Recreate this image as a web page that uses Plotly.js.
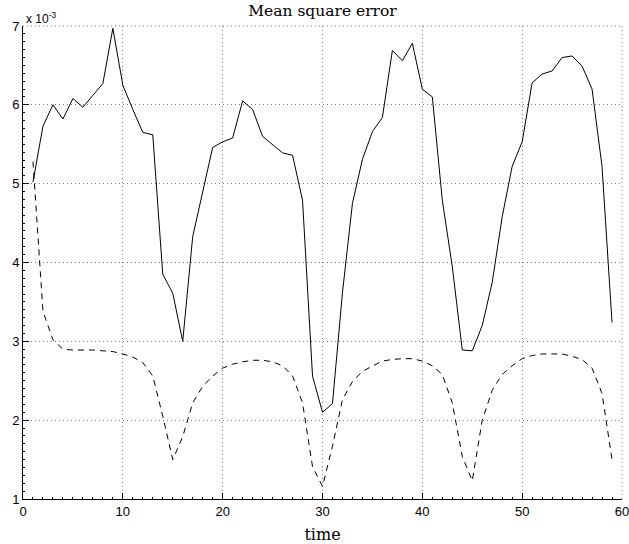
<!DOCTYPE html>
<html>
<head>
<meta charset="utf-8">
<script src="https://cdn.plot.ly/plotly-3.0.1.min.js"></script>
<style>html,body{margin:0;padding:0;background:#fff;}#chart{width:629px;height:544px;}</style>
</head>
<body>
<div id="chart"></div>
<script>
// time steps
var time = [1,2,3,4,5,6,7,8,9,10,11,12,13,14,15,16,17,18,19,20,21,22,23,24,25,26,27,28,29,30,31,32,33,34,35,36,37,38,39,40,41,42,43,44,45,46,47,48,49,50,51,52,53,54,55,56,57,58,59];
// values in units of 1e-3
var mseSolid = [5.02,5.73,6.00,5.82,6.08,5.97,6.12,6.27,6.97,6.25,5.94,5.65,5.62,3.85,3.61,3.00,4.33,4.90,5.46,5.53,5.58,6.05,5.94,5.60,5.49,5.39,5.36,4.79,2.56,2.10,2.21,3.62,4.75,5.31,5.66,5.84,6.69,6.56,6.78,6.20,6.10,4.79,3.95,2.89,2.88,3.20,3.75,4.58,5.22,5.53,6.28,6.39,6.43,6.60,6.62,6.49,6.20,5.22,3.24];
var mseDashed = [5.28,3.38,3.02,2.90,2.89,2.89,2.89,2.88,2.87,2.84,2.80,2.73,2.56,2.05,1.50,1.79,2.22,2.43,2.56,2.66,2.71,2.74,2.76,2.76,2.74,2.69,2.56,2.22,1.41,1.16,1.67,2.26,2.49,2.62,2.69,2.75,2.77,2.78,2.78,2.75,2.69,2.58,2.22,1.54,1.23,2.00,2.38,2.58,2.69,2.78,2.82,2.84,2.84,2.84,2.81,2.77,2.66,2.34,1.50];
var xTicks = [0,10,20,30,40,50,60];
var yTicks = [1,2,3,4,5,6,7];

var traces = [
  {x: time, y: mseSolid, type: 'scatter', mode: 'lines', line: {color: '#000', width: 1}, hoverinfo: 'skip'},
  {x: time, y: mseDashed, type: 'scatter', mode: 'lines', line: {color: '#000', width: 1, dash: '6px,5px'}, hoverinfo: 'skip'}
];
var tickFont = {family: 'Liberation Sans, Arial, sans-serif', size: 13, color: '#000'};
var serif = 'DejaVu Serif, Liberation Serif, serif';
var gridDash = '1px,3px';
var gridColor = '#777';
var layout = {
  width: 629, height: 544,
  margin: {l: 23, r: 7, t: 26, b: 45},
  paper_bgcolor: '#fff', plot_bgcolor: '#fff',
  showlegend: false,
  title: {text: 'Mean square error', font: {family: serif, size: 15.5, color: '#000'}, x: 0.5, xanchor: 'center', xref: 'paper', y: 1, yanchor: 'top', pad: {t: 5}},
  xaxis: {
    range: [0, 60], tickvals: xTicks, ticktext: xTicks.map(String),
    showgrid: true, gridcolor: gridColor, griddash: gridDash, gridwidth: 1,
    zeroline: false, showline: true, linecolor: '#000', linewidth: 1, mirror: false,
    ticks: 'inside', ticklen: 6, tickcolor: '#000', tickfont: tickFont, ticklabeloverflow: 'allow',
    minor: {dtick: 1, ticks: 'inside', ticklen: 2, tickcolor: '#000', showgrid: false},
    title: {text: 'time', font: {family: serif, size: 16, color: '#000'}, standoff: 11}
  },
  yaxis: {
    range: [1, 7], tickvals: yTicks, ticktext: yTicks.map(String),
    showgrid: true, gridcolor: gridColor, griddash: gridDash, gridwidth: 1,
    zeroline: false, showline: true, linecolor: '#000', linewidth: 1, mirror: false,
    ticks: 'inside', ticklen: 6, tickcolor: '#000', tickfont: tickFont, ticklabeloverflow: 'allow',
    minor: {dtick: 0.1, ticks: 'inside', ticklen: 2, tickcolor: '#000', showgrid: false}
  },
  annotations: [{
    text: 'x 10<sup>-3</sup>', xref: 'paper', yref: 'paper', x: 0, y: 1, xanchor: 'left', yanchor: 'bottom',
    showarrow: false, font: {family: 'Liberation Sans, Arial, sans-serif', size: 12, color: '#000'}, xshift: 1, yshift: -2
  }],
  shapes: [
    {type: 'line', xref: 'paper', yref: 'paper', x0: 0, x1: 1, y0: 1, y1: 1, line: {color: gridColor, width: 1, dash: gridDash}},
    {type: 'line', xref: 'paper', yref: 'paper', x0: 1, x1: 1, y0: 0, y1: 1, line: {color: gridColor, width: 1, dash: gridDash}}
  ]
};
Plotly.newPlot('chart', traces, layout, {staticPlot: true, displayModeBar: false});
</script>
</body>
</html>
